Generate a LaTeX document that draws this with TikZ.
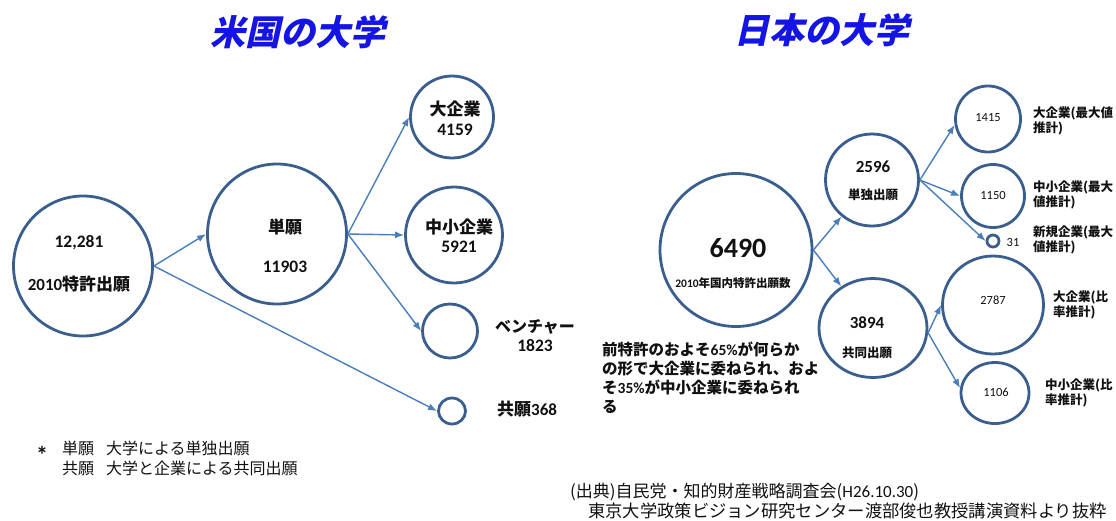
\documentclass[tikz,border=0pt]{standalone}
\usepackage{fontspec}
\setmainfont{Noto Sans CJK JP}
\newfontfamily\lat{Carlito}
\newfontfamily\ttlfont[FakeSlant=0.22]{Noto Sans CJK JP}
\usetikzlibrary{arrows.meta,shapes.geometric}
\definecolor{ringc}{HTML}{3A5F8F}
\definecolor{arrowc}{HTML}{4A7EBB}
\definecolor{ttlblue}{RGB}{20,20,228}
\definecolor{ink}{HTML}{111111}
\newcommand\fsz[2]{\fontsize{#1}{#2}\selectfont}
\tikzset{
  bub/.style n args={2}{ellipse, draw=ringc, line width=2.8pt, inner sep=0pt,
    minimum width=#1, minimum height=#2},
  arr/.style={draw=arrowc, line width=1.4pt, -{Latex[length=9pt,width=7pt]}},
  txt/.style={inner sep=0pt, text=ink},
  bigb/.style={txt, font=\fsz{17}{20}\bfseries},
  smb/.style={txt, font=\fsz{12.5}{15}\bfseries},
  num/.style={txt, font=\lat\fsz{12.5}{15}},
  note/.style={txt, font=\fsz{16}{20}},
  ttl/.style={inner sep=0pt, text=ttlblue, font=\ttlfont\fsz{35}{40}\bfseries},
}
\begin{document}
\begin{tikzpicture}[x=1pt,y=-1pt]
\useasboundingbox (0,0) rectangle (1116,520);

% titles
\node[ttl] (t1) at (298,32) {米国の大学};
\node[ttl] (t2) at (822,30) {日本の大学};

% ---------- left diagram ----------
\node[bub={139pt}{140pt}] (A) at (83,266) {};
\node[bub={139pt}{140pt}] (B) at (277,234) {};
\node[bub={83pt}{82pt}] (C) at (452,117) {};
\node[bub={97pt}{96pt}] (D) at (454,235) {};
\node[bub={55pt}{54pt}] (E) at (450,331) {};
\node[bub={27pt}{26pt}] (F) at (452,411) {};

\node[bigb,font=\lat\fsz{17.5}{20}\bfseries] (a1) at (79,243) {12,281};
\node[bigb] (a2) at (79,284) {{\lat 2010}特許出願};
\node[bigb] (b1) at (285,227) {単願};
\node[bigb,font=\lat\fsz{17.5}{20}\bfseries] (b2) at (285,267) {11903};
\node[bigb] (c1) at (455,109) {大企業};
\node[bigb,font=\lat\fsz{17.5}{20}\bfseries] (c2) at (455,130) {4159};
\node[bigb] (d1) at (459,227) {中小企業};
\node[bigb,font=\lat\fsz{17.5}{20}\bfseries] (d2) at (459,247) {5921};
\node[bigb,font=\fsz{16}{20}\bfseries] (e1) at (535,327) {ベンチャー};
\node[bigb,font=\lat\fsz{17.5}{20}\bfseries] (e2) at (535,346) {1823};
\node[bigb,anchor=west] (f1) at (497,409) {共願{\lat 368}};

\draw[arr] (A.east) -- (B.west);
\draw[arr] (A.east) -- (F.west);
\draw[arr] (B.east) -- (C.west);
\draw[arr] (B.east) -- (D.west);
\draw[arr] (B.east) -- (E.west);

\node[note,font=\lat\fsz{24}{24}\bfseries] (n0) at (42,455) {*};
\node[note,anchor=west] (n1) at (62,448) {単願};
\node[note,anchor=west] (n2) at (106,448) {大学による単独出願};
\node[note,anchor=west] (n3) at (62,468) {共願};
\node[note,anchor=west] (n4) at (106,468) {大学と企業による共同出願};

% ---------- right diagram ----------
\node[bub={152pt}{153pt}] (G) at (736,250) {};
\node[bub={93pt}{92pt}] (H) at (872,180) {};
\node[bub={108pt}{99pt}] (I) at (873,328) {};
\node[bub={65pt}{66pt}] (J) at (988,119) {};
\node[bub={63pt}{63pt}] (K) at (993,196) {};
\node[bub={12pt}{12pt}] (L) at (993,241) {};
\node[bub={101pt}{98pt}] (M) at (993,305) {};
\node[bub={68pt}{61pt}] (N) at (995,393) {};

\node[txt,font=\lat\fsz{28}{30}\bfseries] (g1) at (738,248) {6490};
\node[smb,font=\fsz{11.5}{14}\bfseries] (g2) at (733,283) {{\lat 2010}年国内特許出願数};
\node[bigb,font=\lat\fsz{17}{20}\bfseries] (h1) at (873,167) {2596};
\node[smb] (h2) at (873,195) {単独出願};
\node[bigb,font=\lat\fsz{17}{20}\bfseries] (i1) at (867,323) {3894};
\node[smb] (i2) at (867,353) {共同出願};
\node[num] (j1) at (988,118) {1415};
\node[num] (k1) at (993,195) {1150};
\node[num] (l1) at (1013,242) {31};
\node[num] (m1) at (993,300) {2787};
\node[num] (n1b) at (996,392) {1106};

\node[smb,anchor=west,align=left] (jl) at (1033,120.5) {大企業(最大値\\推計)};
\node[smb,anchor=west,align=left] (kl) at (1033,194.5) {中小企業(最大\\値推計)};
\node[smb,anchor=west,align=left] (ll) at (1033,239.5) {新規企業(最大\\値推計)};
\node[smb,anchor=west,align=left] (ml) at (1053,304.5) {大企業(比\\率推計)};
\node[smb,anchor=west,align=left] (nl) at (1045,392.5) {中小企業(比\\率推計)};

\draw[arr] (G.east) -- (H);
\draw[arr] (G.east) -- (I);
\draw[arr] (H.east) -- (J.190);
\draw[arr] (H.east) -- (K.west);
\draw[arr] (H.east) -- (L.west);
\draw[arr] (I.355) -- (M.west);
\draw[arr] (I.355) -- (N.172);

\node[txt,font=\fsz{15.5}{19}\bfseries,anchor=west,align=left] (blk) at (602,378)
  {前特許のおよそ{\lat 65\%}が何らか\\の形で大企業に委ねられ、およ\\そ{\lat 35\%}が中小企業に委ねられ\\る};

% source
\node[txt,font=\fsz{17}{20},anchor=west] (s1) at (570,492) {(出典)自民党・知的財産戦略調査会({\lat H26.10.30})};
\node[txt,font=\fsz{17.3}{20},anchor=west] (s2) at (588,511) {東京大学政策ビジョン研究センター渡部俊也教授講演資料より抜粋};
\end{tikzpicture}
\end{document}
